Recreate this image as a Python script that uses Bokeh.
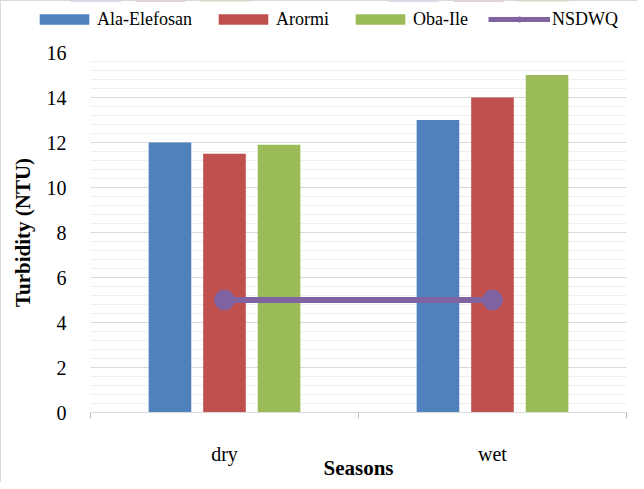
from bokeh.plotting import figure
from bokeh.layouts import column, row
from bokeh.models import Range1d, FixedTicker, SingleIntervalTicker, Legend, LegendItem, ColumnDataSource
from bokeh.embed import file_html
from bokeh.resources import INLINE

# ---- data ----
seasons = ["dry", "wet"]
ala_elefosan = [12.0, 13.0]
arormi = [11.5, 14.0]
oba_ile = [11.9, 15.0]
nsdwq = [5.0, 5.0]
series_names = ["Ala-Elefosan", "Arormi", "Oba-Ile", "NSDWQ"]
y_ticks = [0, 2, 4, 6, 8, 10, 12, 14, 16]

colors = ["#4F81BD", "#C0504D", "#9BBB59", "#8064A2"]
FONT = "Liberation Serif"

W = 636
H_LEG = 36
H_MAIN = 445

centers = [i + 0.5 for i in range(len(seasons))]
offsets = [-0.2035, 0.0, 0.2035]
bw = 0.159
bar_sources = [ColumnDataSource(dict(x=[cx + off for cx in centers], top=vals))
               for vals, off in zip([ala_elefosan, arormi, oba_ile], offsets)]
line_source = ColumnDataSource(dict(x=centers, y=nsdwq))

p = figure(width=W, height=H_MAIN, output_backend="svg", toolbar_location=None,
           x_range=Range1d(0, len(seasons)), y_range=Range1d(y_ticks[0], y_ticks[-1]),
           min_border_left=89, min_border_right=11, min_border_top=15, min_border_bottom=53)
p.outline_line_color = None
p.background_fill_color = "white"
p.border_fill_color = "white"

for src, c in zip(bar_sources, colors[:3]):
    p.vbar(x="x", top="top", bottom=0, width=bw, source=src, fill_color=c, line_color=None)
p.line(x="x", y="y", source=line_source, line_color=colors[3], line_width=6)
p.scatter(x="x", y="y", source=line_source, size=20, marker="circle",
          fill_color=colors[3], line_color=colors[3])

# axes
xa = p.xaxis[0]
xa.ticker = FixedTicker(ticks=centers, minor_ticks=list(range(len(seasons) + 1)))
xa.major_label_overrides = {cx: s for cx, s in zip(centers, seasons)}
xa.major_tick_out = 0
xa.major_tick_in = 0
xa.minor_tick_out = 6
xa.minor_tick_in = 0
xa.minor_tick_line_color = "#bfbfbf"
xa.axis_line_color = "#d9d9d9"
xa.axis_line_width = 1
xa.major_label_text_font = FONT
xa.major_label_text_font_size = "20px"
xa.major_label_text_color = "#000000"
xa.major_label_standoff = 24
xa.axis_label = "Seasons"
xa.axis_label_text_font = FONT
xa.axis_label_text_font_size = "21px"
xa.axis_label_text_font_style = "bold"
xa.axis_label_text_color = "#000000"
xa.axis_label_standoff = -12

ya = p.yaxis[0]
ya.ticker = SingleIntervalTicker(interval=2, num_minor_ticks=5)
ya.axis_line_color = None
ya.major_tick_line_color = None
ya.minor_tick_line_color = None
ya.major_label_text_font = FONT
ya.major_label_text_font_size = "20px"
ya.major_label_text_color = "#000000"
ya.major_label_standoff = 18
ya.axis_label = "Turbidity (NTU)"
ya.axis_label_text_font = FONT
ya.axis_label_text_font_size = "21px"
ya.axis_label_text_font_style = "bold"
ya.axis_label_text_color = "#000000"
ya.axis_label_standoff = 9

p.xgrid.grid_line_color = None
p.ygrid.grid_line_color = "#d9d9d9"
p.ygrid.grid_line_width = 1
p.ygrid.minor_grid_line_color = "#efefef"
p.ygrid.minor_grid_line_width = 1

# ---- legend strip: same series, scrolled out of view, only the legend shows ----
pl = figure(width=W, height=H_LEG, output_backend="svg", toolbar_location=None,
            x_axis_type=None, y_axis_type=None,
            x_range=Range1d(0, len(seasons)), y_range=Range1d(-200, -100),
            min_border_left=0, min_border_right=0, min_border_top=0, min_border_bottom=0)
pl.outline_line_color = None
pl.grid.visible = False
pl.border_fill_color = "white"
pl.background_fill_color = "white"
leg_r = []
for src, c in zip(bar_sources, colors[:3]):
    leg_r.append(pl.vbar(x="x", top="top", bottom=0, width=bw, source=src,
                         fill_color=c, line_color=None))
l_line = pl.line(x="x", y="y", source=line_source, line_color=colors[3], line_width=5)
l_sc = pl.scatter(x="x", y="y", source=line_source, size=12, marker="circle",
                  fill_color=colors[3], line_color=colors[3])

items = [LegendItem(label=series_names[i], renderers=[leg_r[i]]) for i in range(3)]
items.append(LegendItem(label=series_names[3], renderers=[l_line, l_sc]))
legend = Legend(items=items, orientation="horizontal", location="left",
                glyph_width=62, glyph_height=13, label_standoff=2, spacing=20,
                padding=0, margin=32, border_line_color=None, background_fill_alpha=0,
                label_text_font=FONT, label_text_font_size="18px", label_text_color="#000000",
                label_height=20)
pl.add_layout(legend, "center")

lay = column(row(pl), p, spacing=0)
lay.styles = {"border-left": "1px solid #d9d9d9", "border-top": "1px solid #d9d9d9"}

open("out.html", "w").write(file_html(lay, INLINE))
